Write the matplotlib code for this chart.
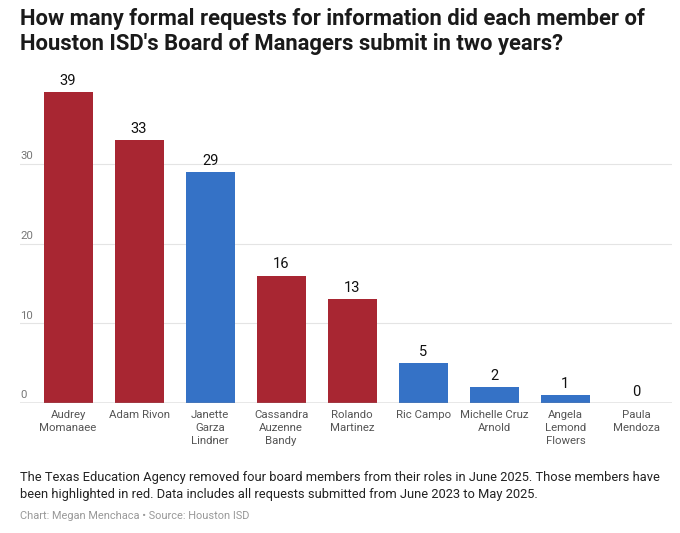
import matplotlib.pyplot as plt
import numpy as np

# Data
members = ["Audrey\nMomanaee", "Adam Rivon", "Janette\nGarza\nLindner",
           "Cassandra\nAuzenne\nBandy", "Rolando\nMartinez", "Ric Campo",
           "Michelle Cruz\nArnold", "Angela\nLemond\nFlowers", "Paula\nMendoza"]
requests = [39, 33, 29, 16, 13, 5, 2, 1, 0]
removed = [True, True, False, True, True, False, False, False, False]
y_ticks = [0, 10, 20, 30]

RED = "#A82632"
BLUE = "#3572C6"

plt.rcParams['font.family'] = ['Roboto', 'DejaVu Sans']

fig = plt.figure(figsize=(6.8, 5.33), dpi=100)
ax = fig.add_axes([0.0294, 0.2439, 0.9588, 0.598])

x = np.arange(len(members))
colors = [RED if r else BLUE for r in removed]
bars = ax.bar(x, requests, width=0.69, color=colors, zorder=3)

# value labels above bars
for bar, v in zip(bars, requests):
    ax.annotate(f"{v}", xy=(bar.get_x() + bar.get_width() / 2, v),
                xytext=(0, 3), textcoords="offset points",
                ha="center", va="bottom", fontsize=10.5, color="#111111",
                annotation_clip=False)

ax.set_xlim(-0.676, 8.5)
ax.set_ylim(0, 40)

# gridlines and y labels drawn inside the plot, above each line
for t in y_ticks[1:]:
    ax.axhline(t, color="#e4e4e4", linewidth=0.8, zorder=1)
for t in y_ticks:
    ax.text(-0.676, t + 0.35, f"{t}", ha="left", va="bottom",
            fontsize=8.2, color="#777777")
ax.axhline(0, color="#8a8a8a", linewidth=1.0, zorder=4)

ax.set_yticks([])
ax.set_xticks(x)
ax.set_xticklabels(members, fontsize=8.2, color="#555555", linespacing=1.35)
ax.tick_params(axis="x", length=0, pad=5)
for side in ["top", "right", "left", "bottom"]:
    ax.spines[side].set_visible(False)

fig.text(0.029, 0.985, "How many formal requests for information did each member of\n"
         "Houston ISD's Board of Managers submit in two years?",
         ha="left", va="top", fontsize=15.8, fontweight="bold", color="#1a1a1a",
         linespacing=1.15)

fig.text(0.029, 0.089, "The Texas Education Agency removed four board members from their roles in June 2025. Those members have\n"
         "been highlighted in red. Data includes all requests submitted from June 2023 to May 2025.",
         ha="left", va="center", fontsize=9.3, color="#222222", linespacing=1.4)

fig.text(0.029, 0.031, "Chart: Megan Menchaca \u2022 Source: Houston ISD",
         ha="left", va="center", fontsize=7.9, color="#999999")

fig.savefig("out.png", dpi=100)
